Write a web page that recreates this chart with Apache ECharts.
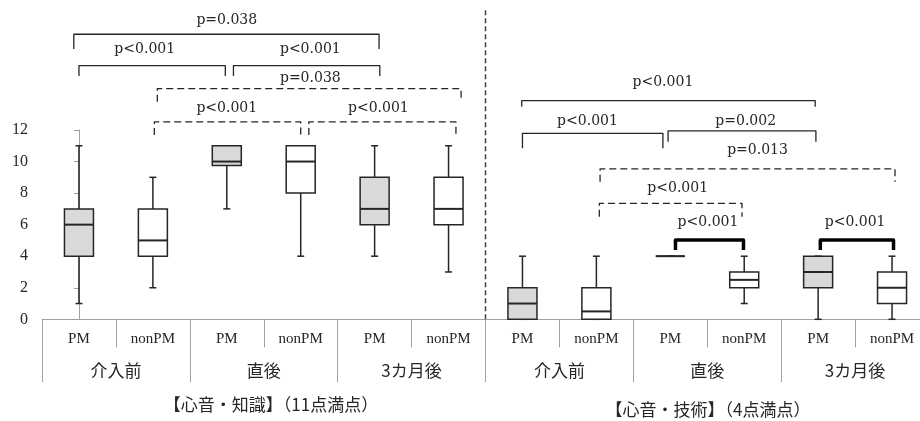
<!DOCTYPE html>
<html>
<head>
<meta charset="utf-8">
<script src="https://cdn.jsdelivr.net/npm/echarts@6/dist/echarts.min.js"></script>
<style>html,body{margin:0;padding:0;background:#fff}#c{width:920px;height:421px}</style>
</head>
<body>
<div id="c"></div>
<script>
// ---- categories ----
const subLabels = ['PM','nonPM','PM','nonPM','PM','nonPM','PM','nonPM','PM','nonPM','PM','nonPM'];
const groupLabels = ['介入前','直後','3カ月後','介入前','直後','3カ月後'];
const panelTitles = ['【心音・知識】（11点満点）','【心音・技術】（4点満点）'];

// ---- box plot values (min, Q1, median, Q3, max) ----
const boxMin    = [1, 2, 7,    4,  4, 3,  0, 0,   4, 1,   0, 0];
const boxQ1     = [4, 4, 9.75, 8,  6, 6,  0, 0,   4, 2,   2, 1];
const boxMedian = [6, 5, 10,   10, 7, 7,  1, 0.5, 4, 2.5, 3, 2];
const boxQ3     = [7, 7, 11,   11, 9, 9,  2, 2,   4, 3,   4, 3];
const boxMax    = [11,9, 11,   11, 11,11, 4, 4,   4, 4,   4, 4];

// ---- significance comparisons (category index span, bracket level in score units) ----
const bracketFrom  = [-0.07, 0.0,  2.09, 1.06, 1.02, 3.11, 5.99, 6.0,  7.97, 7.05, 7.04, 8.07, 10.03];
const bracketTo    = [4.06,  1.98, 4.07, 5.17, 3.0,  5.1,  9.96, 7.9,  9.97, 11.04,8.97, 8.99, 11.02];
const bracketLevel = [18.07, 16.08,16.08,14.62,12.51,12.51,13.86,11.79,11.94,9.53, 7.35, 5.03, 5.03];
const bracketLeg   = [17.13, 15.42,15.42,13.79,11.68,11.68,13.48,10.84,11.26,8.72, 6.5,  4.39, 4.39];
const bracketText  = ['p=0.038','p<0.001','p<0.001','p=0.038','p<0.001','p<0.001',
                      'p<0.001','p<0.001','p=0.002','p=0.013','p<0.001','p<0.001','p<0.001'];
const bracketKind  = ['solid','solid','solid','dashed','dashed','dashed',
                      'solid','solid','solid','dashed','dashed','bold','bold'];
const labelPosX    = [2.0, 0.89, 3.13, 3.13, 2.0, 4.05, 7.9, 6.88, 9.02, 9.18, 8.1, 8.51, 10.5];
const labelPosY    = [18.97,17.12,17.12,15.28,13.39,13.39,15.0,12.53,12.53,10.73,8.30,6.15,6.15];

const boxRows = subLabels.map((s, i) => [i, boxMin[i], boxQ1[i], boxMedian[i], boxQ3[i], boxMax[i], s === 'PM' ? 1 : 0]);
const bracketRows = bracketFrom.map((f, i) => [f, bracketLevel[i], bracketTo[i], bracketLeg[i], labelPosX[i], labelPosY[i]]);

const chart = echarts.init(document.getElementById('c'), null, {renderer: 'canvas'});
const axisGray = '#a0a0a0';
const ink = '#262626';
const latinSerif = '"Liberation Serif", "Noto Sans CJK JP", serif';

const option = {
  animation: false,
  backgroundColor: '#fff',
  grid: {left: 42, top: 130, width: 887, height: 189.3, containLabel: false, outerBoundsMode: 'none'},
  xAxis: [
    {
      type: 'category', data: subLabels, position: 'bottom',
      axisLine: {show: true, lineStyle: {color: axisGray, width: 1}},
      axisTick: {show: true, length: 28, lineStyle: {color: axisGray}},
      axisLabel: {margin: 12, color: ink, fontFamily: latinSerif, fontSize: 15},
      splitLine: {show: false}
    },
    {
      type: 'category', data: groupLabels, position: 'bottom', offset: 0,
      axisLine: {show: false},
      axisTick: {show: true, length: 63, lineStyle: {color: axisGray}},
      axisLabel: {margin: 43, color: ink, fontFamily: '"Noto Sans CJK JP", sans-serif', fontSize: 17},
      splitLine: {show: false}
    },
    {type: 'value', min: -0.5, max: 11.5, show: false}
  ],
  yAxis: {
    type: 'value', min: 0, max: 12, interval: 2,
    axisLine: {show: true, lineStyle: {color: axisGray}},
    axisTick: {show: true, length: 5, lineStyle: {color: axisGray}},
    axisLabel: {margin: 14, color: ink, fontFamily: latinSerif, fontSize: 16},
    splitLine: {show: false}
  },
  graphic: [
    {type: 'text', x: 271, y: 404.5, style: {text: panelTitles[0], align: 'center', verticalAlign: 'middle',
      font: '17px "Noto Sans CJK JP", sans-serif', fill: ink}},
    {type: 'text', x: 708, y: 409.5, style: {text: panelTitles[1], align: 'center', verticalAlign: 'middle',
      font: '17px "Noto Sans CJK JP", sans-serif', fill: ink}}
  ],
  series: [
    {
      type: 'custom', xAxisIndex: 2, yAxisIndex: 0, clip: false, z: 3,
      data: boxRows,
      encode: {x: 0, y: [1, 2, 3, 4, 5]},
      renderItem: function (params, api) {
        const i = api.value(0);
        const pMin = api.coord([i, api.value(1)]);
        const pQ1 = api.coord([i, api.value(2)]);
        const pMed = api.coord([i, api.value(3)]);
        const pQ3 = api.coord([i, api.value(4)]);
        const pMax = api.coord([i, api.value(5)]);
        const pm = api.value(6) === 1;
        const cx = pMed[0];
        const hw = 14.5, cap = 3.5;
        const ls = {stroke: ink, lineWidth: 1.5};
        return {
          type: 'group',
          children: [
            {type: 'line', shape: {x1: cx, y1: pMax[1], x2: cx, y2: pQ3[1]}, style: ls},
            {type: 'line', shape: {x1: cx, y1: pQ1[1], x2: cx, y2: pMin[1]}, style: ls},
            {type: 'line', shape: {x1: cx - cap, y1: pMax[1], x2: cx + cap, y2: pMax[1]}, style: ls},
            {type: 'line', shape: {x1: cx - cap, y1: pMin[1], x2: cx + cap, y2: pMin[1]}, style: ls},
            {type: 'rect', shape: {x: cx - hw, y: pQ3[1], width: hw * 2, height: pQ1[1] - pQ3[1]},
              style: {fill: pm ? '#d9d9d9' : '#ffffff', stroke: ink, lineWidth: 1.5}},
            {type: 'line', shape: {x1: cx - hw, y1: pMed[1], x2: cx + hw, y2: pMed[1]}, style: {stroke: ink, lineWidth: 2}}
          ]
        };
      }
    },
    {
      type: 'custom', xAxisIndex: 2, yAxisIndex: 0, clip: false, z: 4,
      data: bracketRows,
      encode: {x: [0, 2, 4], y: [1, 3, 5]},
      renderItem: function (params, api) {
        const k = params.dataIndex;
        const kind = bracketKind[k];
        const a = api.coord([api.value(0), api.value(3)]);
        const b = api.coord([api.value(0), api.value(1)]);
        const c = api.coord([api.value(2), api.value(1)]);
        const d = api.coord([api.value(2), api.value(3)]);
        const t = api.coord([api.value(4), api.value(5)]);
        const style = {
          stroke: kind === 'bold' ? '#000' : ink,
          lineWidth: kind === 'bold' ? 3.5 : 1.3,
          fill: null,
          lineJoin: 'round'
        };
        if (kind === 'dashed') style.lineDash = [7, 4];
        return {
          type: 'group',
          children: [
            {type: 'polyline', shape: {points: [a, b, c, d]}, style: style},
            {type: 'text', x: t[0], y: t[1], style: {text: bracketText[k], align: 'center', verticalAlign: 'middle',
              font: '14px "DejaVu Serif", serif', fill: ink}}
          ]
        };
      }
    },
    {
      type: 'custom', xAxisIndex: 2, yAxisIndex: 0, clip: false, z: 2,
      data: [[5.5, 0, 19.67]],
      encode: {x: 0, y: [1, 2]},
      renderItem: function (params, api) {
        const p0 = api.coord([api.value(0), api.value(1)]);
        const p1 = api.coord([api.value(0), api.value(2)]);
        return {type: 'line', shape: {x1: p0[0], y1: p0[1], x2: p1[0], y2: p1[1]},
          style: {stroke: '#404040', lineWidth: 1.5, lineDash: [5, 3]}};
      }
    }
  ]
};
chart.setOption(option);
</script>
</body>
</html>
